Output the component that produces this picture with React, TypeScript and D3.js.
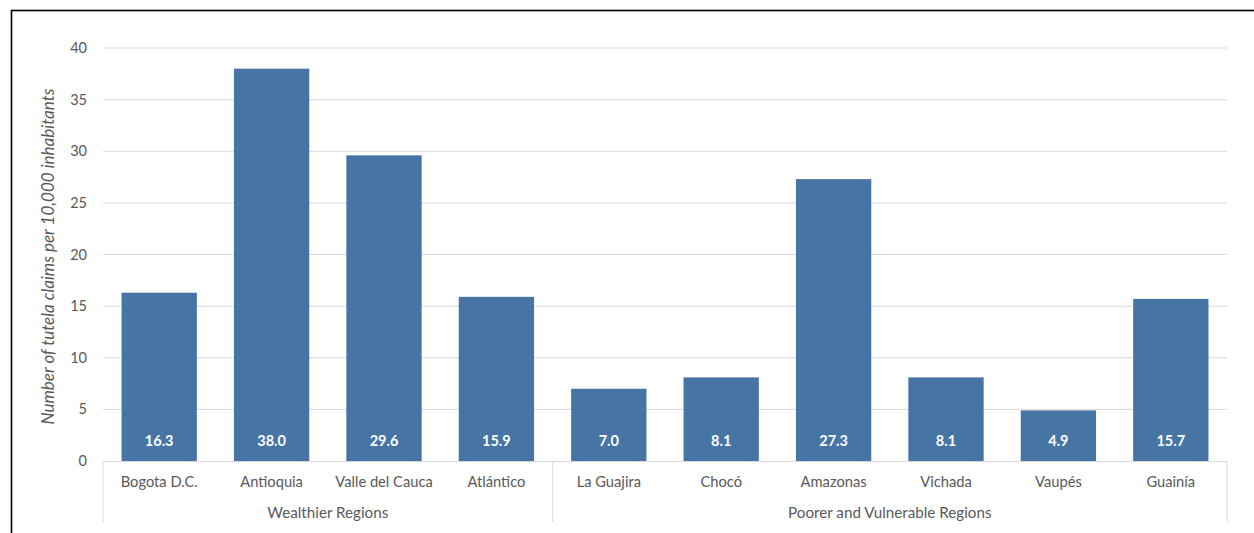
import React from "react";
import * as d3 from "d3";

const categories = ["Bogota D.C.", "Antioquia", "Valle del Cauca", "Atlántico", "La Guajira", "Chocó", "Amazonas", "Vichada", "Vaupés", "Guainía"];
const values = [16.3, 38.0, 29.6, 15.9, 7.0, 8.1, 27.3, 8.1, 4.9, 15.7];
const groups = ["Wealthier Regions", "Poorer and Vulnerable Regions"];
const groupSizes = [4, 6];
const yTicks = [0, 5, 10, 15, 20, 25, 30, 35, 40];
const yLabel = "Number of tutela claims per 10,000 inhabitants";

const W = 1254, H = 533;
const left = 103, right = 1227, top = 48, bottom = 461;
const font = "Lato, 'Open Sans', sans-serif";

export default function App() {
  const x = d3.scaleBand<string>().domain(categories).range([left, right]).paddingInner(0.33).paddingOuter(0.165);
  const y = d3.scaleLinear().domain([0, 40]).range([bottom, top]);
  const band = (right - left) / categories.length;
  const boundaries: number[] = [0];
  let acc = 0;
  groupSizes.forEach((s) => { acc += s; boundaries.push(acc); });
  return (
    <svg width={W} height={H} style={{ position: "absolute", left: 0, top: 0, display: "block", background: "#fff" }}>
      <rect x={11.5} y={10.5} width={W + 10} height={H + 10} fill="none" stroke="#000" strokeWidth={1.6} />
      {yTicks.map((t) => (
        <g key={t}>
          {t > 0 && <line x1={left} x2={right} y1={y(t)} y2={y(t)} stroke="#d9d9d9" strokeWidth={1} />}
          <text x={87} y={y(t)} dy="0.35em" textAnchor="end" fontFamily={font} fontSize={14.5} fill="#595959">{t}</text>
        </g>
      ))}
      {categories.map((c, i) => (
        <g key={c}>
          <rect x={x(c)} y={y(values[i])} width={x.bandwidth()} height={y(0) - y(values[i])} fill="#4674a5" />
          <text x={x(c)! + x.bandwidth() / 2} y={441} dy="0.35em" textAnchor="middle" fontFamily={font} fontWeight="bold" fontSize={14.5} fill="#fff">{values[i].toFixed(1)}</text>
          <text x={x(c)! + x.bandwidth() / 2} y={482} dy="0.35em" textAnchor="middle" fontFamily={font} fontSize={14.7} fill="#595959">{c}</text>
        </g>
      ))}
      <line x1={left} x2={right} y1={bottom + 0.5} y2={bottom + 0.5} stroke="#d9d9d9" strokeWidth={1} />
      {boundaries.map((b, i) => (
        <line key={i} x1={left + b * band} x2={left + b * band} y1={bottom} y2={522} stroke="#d9d9d9" strokeWidth={1} />
      ))}
      {groups.map((g, i) => {
        const cx = left + ((boundaries[i] + boundaries[i + 1]) / 2) * band;
        return <text key={g} x={cx} y={513} dy="0.35em" textAnchor="middle" fontFamily={font} fontSize={15.2} fill="#595959">{g}</text>;
      })}
      <text transform={`translate(48,${(top + bottom) / 2 + 2}) rotate(-90)`} textAnchor="middle" dy="0.35em" fontFamily={font} fontStyle="italic" fontSize={17} fill="#595959">{yLabel}</text>
    </svg>
  );
}
